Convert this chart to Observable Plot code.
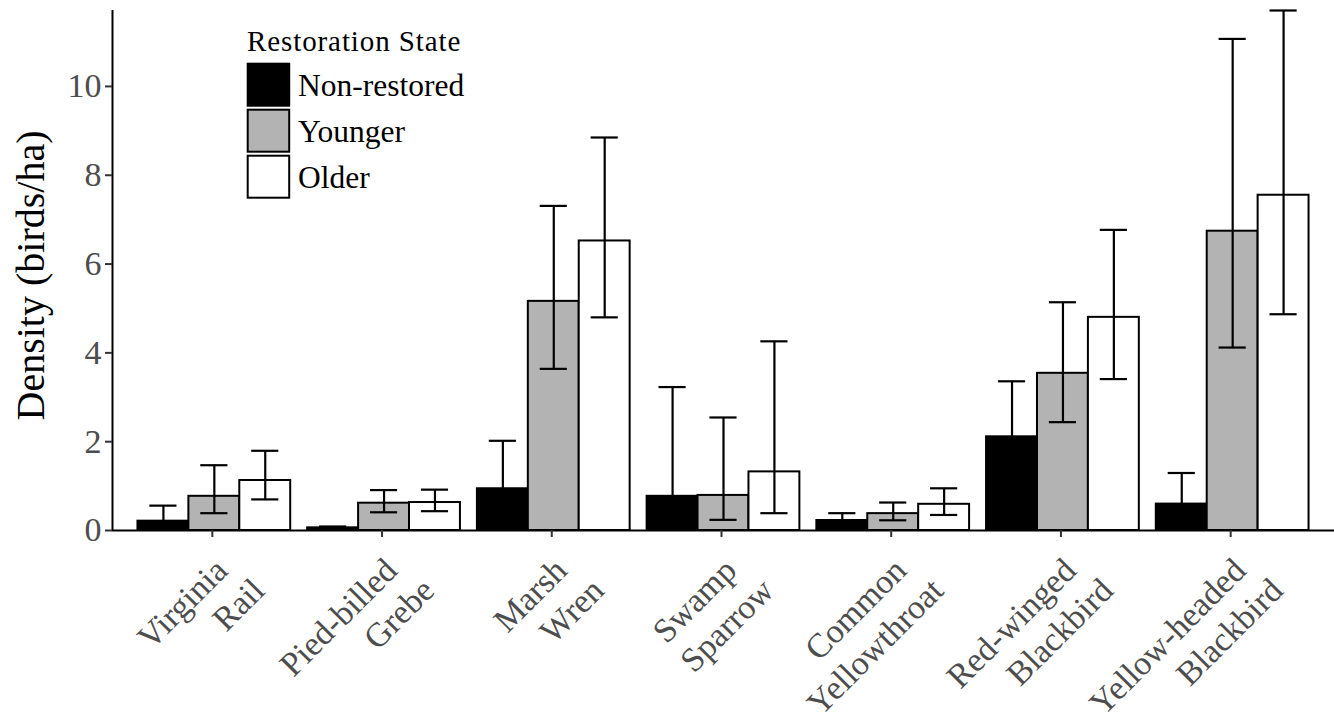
<!DOCTYPE html>
<html><head><meta charset="utf-8">
<script src="https://cdn.jsdelivr.net/npm/d3@7"></script>
<script src="https://cdn.jsdelivr.net/npm/@observablehq/plot@0.6"></script>
<style>
body{margin:0;background:#fff}
#wrap{position:relative;width:1334px;height:719px;overflow:hidden;background:#fff}
#legend{position:absolute;left:0;top:0}
</style></head><body><div id="wrap"></div>
<script>
// ---- data ----
const species = ["Virginia Rail", "Pied-billed Grebe", "Marsh Wren", "Swamp Sparrow",
  "Common Yellowthroat", "Red-winged Blackbird", "Yellow-headed Blackbird"];
const labelLine1 = ["Virginia", "Pied-billed", "Marsh", "Swamp", "Common", "Red-winged", "Yellow-headed"];
const labelLine2 = ["Rail", "Grebe", "Wren", "Sparrow", "Yellowthroat", "Blackbird", "Blackbird"];
const states = ["Non-restored", "Younger", "Older"];
const stateColors = ["#000000", "#B3B3B3", "#FFFFFF"];

const meanNonRestored = [0.21, 0.06, 0.94, 0.77, 0.225, 2.11, 0.595];
const lowNonRestored  = [0.05, 0.03, 0.40, 0.15, 0.10, 1.40, 0.10];
const highNonRestored = [0.56, 0.09, 2.02, 3.23, 0.39, 3.36, 1.295];

const meanYounger = [0.77, 0.615, 5.16, 0.79, 0.38, 3.54, 6.74];
const lowYounger  = [0.39, 0.41, 3.64, 0.24, 0.23, 2.44, 4.12];
const highYounger = [1.47, 0.91, 7.31, 2.545, 0.63, 5.14, 11.07];

const meanOlder = [1.126, 0.63, 6.52, 1.32, 0.59, 4.80, 7.55];
const lowOlder  = [0.70, 0.435, 4.80, 0.39, 0.35, 3.41, 4.87];
const highOlder = [1.795, 0.92, 8.85, 4.26, 0.95, 6.77, 11.71];

const yTicks = [0, 2, 4, 6, 8, 10];
const yMax = 11.71;
const yLabel = "Density (birds/ha)";
const legendTitle = "Restoration State";

// ---- table ----
const means = [meanNonRestored, meanYounger, meanOlder];
const lows = [lowNonRestored, lowYounger, lowOlder];
const highs = [highNonRestored, highYounger, highOlder];
const rows = states.flatMap((state, k) => species.map((sp, i) => ({
  state, sp, i, k, mean: means[k][i], lo: lows[k][i], hi: highs[k][i]
})));
const groupWidth = 0.9;
const dodge = groupWidth / states.length;
const xpos = d => d.i - groupWidth / 2 + dodge * (d.k + 0.5);
const capHalf = 0.08;
const xDomain = [-0.6, species.length - 0.4];
const xTicks = species.map((_, i) => i);

const font = "'Liberation Serif','Times New Roman',serif";

const chart = Plot.plot({
  width: 1334, height: 719,
  marginLeft: 112, marginRight: 0, marginTop: 10, marginBottom: 189,
  style: {fontFamily: font, background: "white", overflow: "visible"},
  x: {type: "linear", domain: xDomain, axis: null},
  y: {domain: [0, yMax], axis: null},
  color: {domain: states, range: stateColors},
  marks: [
    Plot.rect(rows, {x1: d => xpos(d) - dodge / 2, x2: d => xpos(d) + dodge / 2, y1: 0, y2: "mean",
      fill: "state", stroke: "black", strokeWidth: 2}),
    Plot.ruleX(rows, {x: xpos, y1: "lo", y2: "hi", stroke: "black", strokeWidth: 2.2}),
    Plot.ruleY(rows, {x1: d => xpos(d) - capHalf, x2: d => xpos(d) + capHalf, y: "hi", stroke: "black", strokeWidth: 2.2}),
    Plot.ruleY(rows, {x1: d => xpos(d) - capHalf, x2: d => xpos(d) + capHalf, y: "lo", stroke: "black", strokeWidth: 2.2}),
    Plot.ruleY([0], {stroke: "black", strokeWidth: 2}),
    Plot.ruleX([xDomain[0]], {stroke: "black", strokeWidth: 2}),
    Plot.axisY({ticks: yTicks, tickSize: 7, tickPadding: 4, fontSize: 34, fill: "#4D4D4D",
      stroke: "#333333", strokeWidth: 2, label: null}),
    Plot.axisX({ticks: xTicks, tickFormat: i => labelLine1[i], tickRotate: -45,
      textAnchor: "end", lineAnchor: "top", tickSize: 7, tickPadding: 18, dx: -2, fontSize: 34,
      fill: "#4D4D4D", stroke: "#333333", strokeWidth: 2, label: null}),
    Plot.axisX({ticks: xTicks, tickFormat: i => labelLine2[i], tickRotate: -45,
      textAnchor: "end", lineAnchor: "top", tickSize: 0, tickPadding: 45, dx: 35, fontSize: 34,
      fill: "#4D4D4D", label: null}),
    Plot.text([yLabel], {text: d => d, frameAnchor: "left", rotate: -90, dx: -97, dy: 5,
      textAnchor: "middle", lineAnchor: "top", fontSize: 40, fill: "black"})
  ]
});
const wrap = document.getElementById("wrap");
wrap.appendChild(chart);

// ---- legend (inside plot, top-left) ----
const leg = d3.select(wrap).append("svg").attr("id", "legend")
  .attr("width", 520).attr("height", 215).style("font-family", font);
leg.append("text").attr("x", 247).attr("y", 50.7).attr("font-size", 29)
  .attr("letter-spacing", 0.9).attr("fill", "black").text(legendTitle);
states.forEach((s, k) => {
  const y0 = 63.7 + 46 * k;
  leg.append("rect").attr("x", 247.7).attr("y", y0).attr("width", 41.5).attr("height", 42)
    .attr("fill", stateColors[k]).attr("stroke", "black").attr("stroke-width", 2);
  leg.append("text").attr("x", 298).attr("y", y0 + 32).attr("font-size", 31.5)
    .attr("fill", "black").text(s);
});
</script></body></html>
